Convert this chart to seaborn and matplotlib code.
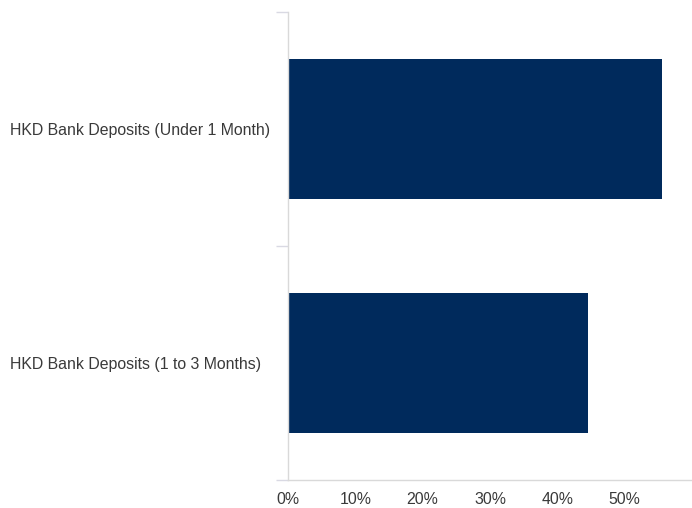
import numpy as np
import pandas as pd
import matplotlib
matplotlib.use("Agg")
import matplotlib.pyplot as plt
import seaborn as sns
from matplotlib.ticker import FuncFormatter, FixedLocator

# data
categories = ['HKD Bank Deposits (Under 1 Month)', 'HKD Bank Deposits (1 to 3 Months)']
shares = [55.6, 44.5]
x_ticks = [0, 10, 20, 30, 40, 50]

df = pd.DataFrame({'category': categories, 'share': shares})

sns.set_style('white')
plt.rcParams['font.family'] = ['Liberation Sans', 'DejaVu Sans']

fig = plt.figure(figsize=(6.92, 5.08), dpi=100)
ax = fig.add_axes([288 / 692, 28 / 508, 404 / 692, 468 / 508])

sns.barplot(data=df, x='share', y='category', orient='h', color='#002a5c',
            width=0.6, saturation=1, linewidth=0, ax=ax)

ax.set_xlim(0, 60)
ax.set_ylim(1.5, -0.5)
ax.set_xlabel('')
ax.set_ylabel('')

ax.xaxis.set_major_locator(FixedLocator(x_ticks))
ax.xaxis.set_major_formatter(FuncFormatter(lambda v, p: f'{v:.0f}%'))
ax.tick_params(axis='x', length=0, pad=9, labelsize=11.4, labelcolor='#3a3a3a')

# category labels, left aligned at the figure edge
ax.tick_params(axis='y', which='major', length=0, pad=200, labelsize=11.4, labelcolor='#3a3a3a')
for lab in ax.get_yticklabels():
    lab.set_horizontalalignment('left')

# boundary ticks between categories
ax.yaxis.set_minor_locator(FixedLocator([-0.5, 0.5, 1.5]))
ax.tick_params(axis='y', which='minor', length=8.5, width=1, color='#d9d9e3', left=True)

for side in ['top', 'right']:
    ax.spines[side].set_visible(False)
ax.spines['left'].set_color('#d9d9d9')
ax.spines['bottom'].set_color('#d9d9d9')
ax.spines['left'].set_linewidth(1)
ax.spines['bottom'].set_linewidth(1)

plt.savefig('out.png', dpi=100)
